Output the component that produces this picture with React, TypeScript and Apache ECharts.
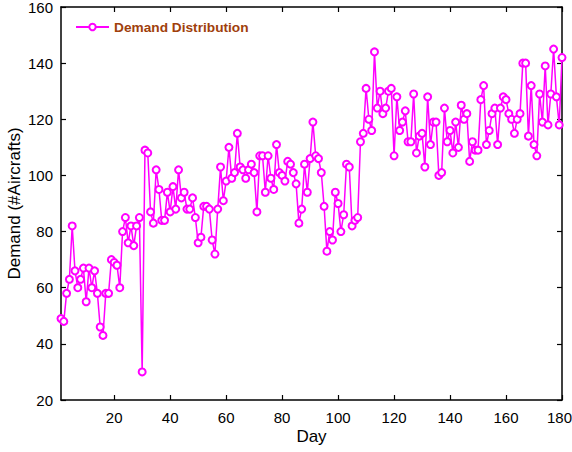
import React, { useEffect, useRef } from "react";
import * as echarts from "echarts";

const demand: number[] = [
  49, 48, 58, 63, 82, 66, 60, 63, 67, 55,
  67, 60, 66, 58, 46, 43, 58, 58, 70, 69,
  68, 60, 80, 85, 76, 82, 75, 82, 85, 30,
  109, 108, 87, 83, 102, 95, 84, 84, 94, 87,
  96, 88, 102, 92, 94, 88, 88, 92, 85, 76,
  78, 89, 89, 88, 77, 72, 88, 103, 91, 98,
  110, 99, 101, 115, 103, 102, 99, 102, 104, 101,
  87, 107, 107, 94, 107, 99, 95, 111, 101, 100,
  98, 105, 104, 101, 97, 83, 88, 104, 94, 106,
  119, 107, 106, 101, 89, 73, 80, 77, 94, 90,
  80, 86, 104, 103, 82, 84, 85, 112, 115, 131,
  120, 116, 144, 124, 130, 122, 124, 130, 131, 107,
  128, 116, 119, 123, 112, 112, 129, 108, 114, 115,
  103, 128, 111, 119, 119, 100, 101, 124, 112, 116,
  108, 119, 110, 125, 120, 122, 105, 112, 109, 109,
  127, 132, 111, 116, 122, 124, 111, 124, 128, 127,
  122, 120, 115, 120, 122, 140, 140, 114, 132, 111,
  107, 129, 119, 139, 118, 129, 145, 128, 118, 142,
];
const days: number[] = demand.map((_, i) => i + 1);
const xTicks: number[] = [20, 40, 60, 80, 100, 120, 140, 160, 180];
const yTicks: number[] = [20, 40, 60, 80, 100, 120, 140, 160];

const FONT = "'Liberation Sans', Arial, Helvetica, sans-serif";

export default function App() {
  const ref = useRef<HTMLDivElement>(null);
  useEffect(() => {
    if (!ref.current) return;
    const chart = echarts.init(ref.current, undefined, { renderer: "svg" });
    const axisLine = { show: true, lineStyle: { color: "#000", width: 1.5 } };
    const tick = { show: true, inside: true, length: 5, lineStyle: { color: "#000", width: 1.2 } };
    const lastX = xTicks[xTicks.length - 1];
    chart.setOption({
      animation: false,
      backgroundColor: "#fff",
      textStyle: { fontFamily: FONT },
      grid: { left: 61, right: 10, top: 7, bottom: 52, containLabel: false, outerBoundsMode: "none" },
      legend: {
        left: 70,
        top: 15,
        itemWidth: 33,
        itemHeight: 8,
        itemGap: 4,
        textStyle: { color: "#A0400C", fontWeight: "bold", fontSize: 13.7, fontFamily: FONT },
        data: ["Demand Distribution"],
      },
      xAxis: [
        {
          type: "value",
          min: 1,
          max: 180,
          position: "bottom",
          name: "Day",
          nameLocation: "middle",
          nameGap: 28,
          nameMoveOverlap: false,
          nameTextStyle: { color: "#000", fontSize: 17, fontFamily: FONT },
          axisLine,
          axisTick: { ...tick, customValues: xTicks },
          axisLabel: {
            color: "#000",
            fontSize: 15,
            margin: 10,
            customValues: xTicks,
            fontFamily: FONT,
            formatter: (v: number) => (v === lastX ? "{e|" + v + "}" : String(v)),
            rich: { e: { fontSize: 15, fontFamily: FONT, color: "#000", padding: [0, 5, 0, 0] } },
          },
          splitLine: { show: false },
        },
        {
          type: "value",
          min: 1,
          max: 180,
          position: "top",
          axisLine,
          axisTick: { ...tick, customValues: xTicks },
          axisLabel: { show: false },
          splitLine: { show: false },
        },
      ],
      yAxis: [
        {
          type: "value",
          min: 20,
          max: 160,
          interval: 20,
          position: "left",
          name: "Demand (#Aircrafts)",
          nameLocation: "middle",
          nameGap: 38,
          nameMoveOverlap: false,
          nameTextStyle: { color: "#000", fontSize: 17, fontFamily: FONT },
          axisLine,
          axisTick: { ...tick, customValues: yTicks },
          axisLabel: { color: "#000", fontSize: 15, margin: 8, customValues: yTicks, fontFamily: FONT },
          splitLine: { show: false },
        },
        {
          type: "value",
          min: 20,
          max: 160,
          interval: 20,
          position: "right",
          axisLine,
          axisTick: { ...tick, customValues: yTicks },
          axisLabel: { show: false },
          splitLine: { show: false },
        },
      ],
      series: [
        {
          name: "Demand Distribution",
          type: "line",
          xAxisIndex: 0,
          yAxisIndex: 0,
          data: days.map((d, i) => [d, demand[i]]),
          symbol: "emptyCircle",
          symbolSize: 7,
          showAllSymbol: true,
          lineStyle: { color: "#FF00FF", width: 1.5 },
          itemStyle: { color: "#FF00FF", borderColor: "#FF00FF", borderWidth: 1.5 },
          clip: false,
        },
      ],
    });
    return () => chart.dispose();
  }, []);
  return (
    <div
      ref={ref}
      style={{ position: "fixed", left: 0, top: 0, width: 572, height: 452, background: "#fff" }}
    />
  );
}
